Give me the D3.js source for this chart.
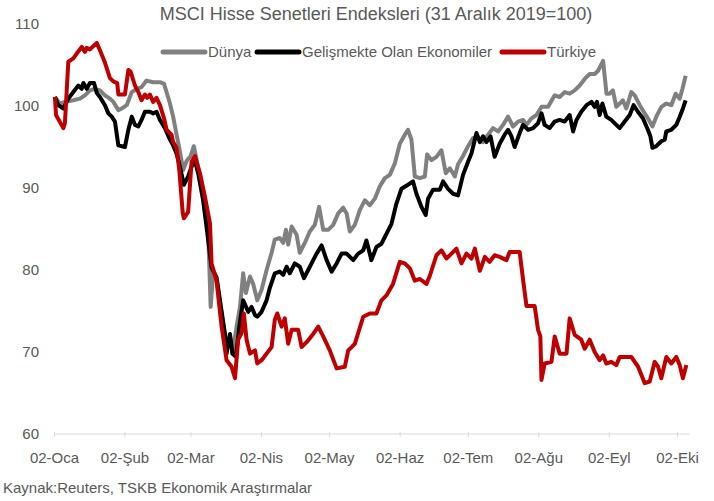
<!DOCTYPE html>
<html>
<head>
<meta charset="utf-8">
<script src="https://cdn.jsdelivr.net/npm/d3@7/dist/d3.min.js"></script>
<style>
  body { margin: 0; background: #fff; }
  text { font-family: "Liberation Sans Narrow", "Arial Narrow", "Liberation Sans", sans-serif; fill: #595959; }
</style>
</head>
<body>
<script>
// day offsets from 02 Jan 2020, index value (31 Dec 2019 = 100)
var dunya = [
  [0.4,101.1],[2.6,100.3],[4.8,100.5],[8.5,100.7],[11.4,100.9],[13.6,101.3],[15.8,101.9],[18.0,102.1],
  [20.2,101.9],[22.4,101.3],[24.6,100.9],[26.1,100.5],[28.3,99.5],[29.8,99.7],[32.0,100.1],[34.2,101.7],
  [36.4,102.1],[38.5,102.3],[40.7,103.1],[43.6,102.9],[46.6,102.9],[48.4,102.7],[49.5,101.7],[51.0,100.3],
  [52.4,98.7],[53.9,96.5],[55.1,94.9],[56.8,92.2],[58.3,93.3],[60.1,93.9],[61.5,95.1],[62.7,93.5],
  [64.9,90.2],[66.4,87.0],[67.8,84.9],[68.9,75.5],[70.0,79.6],[71.5,78.7],[73.7,74.7],[75.9,70.6],
  [77.4,71.9],[78.5,69.8],[80.3,73.1],[81.8,75.5],[83.2,79.6],[84.4,77.2],[86.2,79.2],[87.6,78.3],
  [89.4,76.3],[91.3,77.6],[93.5,80.0],[95.7,82.1],[97.1,83.7],[99.3,83.9],[100.8,83.3],[102.0,84.9],
  [103.0,83.1],[104.5,85.3],[106.7,84.3],[108.1,82.1],[110.3,83.3],[112.5,84.7],[114.7,85.5],[116.6,87.7],
  [118.4,84.9],[120.6,84.9],[122.8,85.5],[125.0,86.9],[127.2,87.6],[128.7,86.9],[130.1,84.7],[132.3,85.5],
  [134.5,87.3],[136.7,88.5],[138.9,87.9],[141.1,88.7],[143.3,90.2],[145.5,91.2],[147.7,91.6],[149.9,93.0],
  [152.1,95.4],[154.3,96.5],[155.7,97.1],[157.2,95.9],[158.7,91.4],[160.9,91.2],[163.1,91.4],[164.1,94.1],
  [166.0,93.4],[168.2,93.8],[170.4,94.6],[172.3,91.8],[174.1,92.4],[176.3,91.4],[177.7,92.9],[179.9,93.9],
  [182.1,95.1],[184.3,96.1],[186.5,96.1],[188.7,95.6],[190.9,96.5],[193.1,97.3],[195.3,96.9],[197.5,97.7],
  [199.7,98.7],[201.9,97.5],[204.1,98.1],[206.3,98.3],[207.8,97.7],[210.0,98.5],[212.2,98.9],[214.4,99.9],
  [217.3,99.9],[220.2,101.3],[222.4,101.1],[224.6,101.7],[226.8,101.5],[229.0,101.9],[231.2,102.5],[233.4,103.3],
  [235.6,103.9],[237.8,103.9],[239.3,104.3],[241.5,105.5],[243.0,101.5],[244.4,101.5],[245.8,101.9],[247.3,99.9],
  [248.8,100.3],[250.2,100.7],[251.7,99.7],[253.9,101.7],[255.4,101.3],[257.6,100.1],[259.8,99.1],[261.2,98.5],
  [263.2,97.5],[264.9,98.7],[267.1,99.9],[269.3,100.3],[271.5,100.1],[273.4,101.5],[275.2,100.9],[276.4,102.1],
  [277.8,103.7]
];

var gelismekte = [
  [0.4,101.1],[1.9,100.1],[4.1,99.7],[6.3,100.9],[8.5,101.7],[10.7,102.5],[12.2,102.1],[12.9,102.8],
  [14.4,102.1],[15.8,102.8],[17.6,102.8],[18.8,101.6],[20.2,101.1],[22.4,100.1],[23.9,99.1],[25.4,98.7],
  [26.8,98.1],[28.3,95.2],[31.2,95.0],[32.7,97.1],[34.2,98.7],[35.6,97.7],[37.1,97.5],[38.5,98.3],
  [40.0,99.3],[42.2,99.3],[43.6,99.1],[45.1,99.3],[46.6,98.3],[48.8,97.3],[51.0,95.9],[52.4,95.2],
  [53.9,94.2],[55.4,92.6],[57.1,90.4],[59.0,91.4],[60.5,92.6],[62.0,93.3],[63.4,91.8],[65.6,88.5],
  [67.1,85.2],[69.3,80.3],[71.5,79.1],[73.7,75.0],[75.2,72.2],[75.9,69.8],[77.4,72.2],[78.5,69.8],
  [80.0,69.4],[81.5,73.1],[83.2,76.3],[85.4,74.9],[86.9,75.5],[88.4,74.5],[89.4,74.3],[91.3,74.9],
  [93.5,76.3],[94.9,77.8],[97.1,79.6],[99.3,79.8],[100.8,79.4],[102.3,80.4],[103.7,79.6],[105.9,80.8],
  [108.1,80.4],[109.9,79.0],[111.8,80.0],[114.0,81.2],[115.5,82.0],[117.7,83.0],[119.9,81.2],[122.1,79.8],
  [124.3,80.8],[126.5,82.0],[128.7,82.0],[131.6,81.2],[133.8,82.0],[136.0,82.4],[137.4,83.6],[139.6,81.2],
  [141.8,82.8],[144.0,83.2],[146.2,84.4],[148.4,85.6],[150.6,88.1],[152.8,89.9],[155.7,90.4],[157.9,90.8],
  [159.4,89.3],[161.6,87.7],[163.5,86.7],[164.5,88.7],[166.7,89.8],[169.7,89.8],[171.1,90.8],[173.3,89.9],
  [175.5,89.3],[177.7,89.1],[179.9,91.6],[182.1,93.2],[183.6,94.2],[185.8,96.7],[187.3,95.6],[188.7,96.3],
  [190.2,95.6],[192.0,96.3],[193.8,93.8],[196.0,95.4],[198.2,96.5],[199.7,97.1],[201.2,96.3],[202.6,95.0],
  [204.8,96.7],[206.3,97.7],[208.5,97.1],[210.7,97.3],[212.9,97.9],[214.4,99.1],[215.8,97.7],[218.0,97.3],
  [220.2,98.1],[222.4,98.3],[224.6,98.1],[226.8,98.9],[228.3,96.9],[229.8,98.3],[231.9,99.3],[234.2,100.1],
  [236.4,100.5],[237.8,99.9],[238.8,100.5],[240.0,98.9],[241.2,100.3],[242.9,98.7],[245.1,98.3],[247.3,97.7],
  [248.8,97.3],[251.0,98.1],[253.2,98.9],[254.9,100.1],[256.8,99.3],[259.0,98.5],[261.2,97.1],[262.3,96.3],
  [263.2,94.9],[264.9,95.1],[267.1,95.7],[268.6,95.9],[269.3,96.9],[271.5,97.1],[273.7,97.7],[275.2,98.7],
  [276.6,99.7],[277.8,100.7]
];

var turkiye = [
  [0.4,101.1],[0.9,98.9],[4.1,97.3],[4.8,97.9],[6.3,105.4],[8.5,105.8],[10.0,106.4],[12.2,107.2],
  [13.6,106.6],[14.4,107.1],[15.8,106.9],[17.3,107.3],[18.8,107.7],[20.2,106.8],[22.4,105.3],[24.6,103.4],
  [26.1,103.0],[27.8,102.8],[28.3,101.4],[31.2,101.4],[32.7,104.4],[33.7,104.2],[35.6,102.5],[37.1,101.7],
  [38.5,100.7],[40.0,101.4],[41.0,101.0],[42.2,101.4],[43.6,100.5],[45.1,101.0],[46.6,100.1],[48.4,98.5],
  [49.5,97.1],[51.7,96.5],[52.4,95.6],[53.9,94.9],[55.1,92.2],[56.6,87.0],[57.1,86.3],[59.0,87.1],
  [60.5,93.2],[62.0,93.9],[64.2,91.8],[66.4,88.9],[68.6,85.7],[69.3,80.8],[71.5,78.7],[73.7,73.1],
  [75.9,69.0],[78.1,68.2],[79.6,66.8],[81.0,71.5],[82.5,72.3],[83.5,74.7],[84.7,71.5],[86.2,69.8],
  [88.4,70.2],[89.4,68.6],[91.3,69.0],[93.5,69.8],[95.7,70.6],[97.1,73.9],[98.2,74.7],[100.1,73.1],
  [101.5,74.1],[103.0,71.0],[104.5,72.7],[107.4,72.7],[108.9,70.6],[111.1,71.2],[114.0,72.2],[116.2,73.1],
  [118.4,71.9],[121.3,70.2],[124.3,68.0],[127.9,68.2],[129.4,70.2],[130.9,70.6],[132.3,71.0],[136.0,74.3],
  [138.9,74.7],[141.8,74.7],[144.0,76.3],[146.2,76.9],[149.1,78.3],[152.1,81.0],[154.3,80.8],[156.5,80.2],
  [158.7,78.7],[160.9,78.9],[163.8,78.3],[165.3,79.3],[168.2,81.8],[170.4,82.4],[172.6,81.4],[174.8,82.0],
  [177.0,82.6],[179.2,80.8],[181.4,82.0],[183.6,81.4],[185.1,82.6],[187.3,79.9],[189.5,81.6],[191.6,81.0],
  [193.8,81.8],[196.0,81.6],[199.0,81.2],[200.4,82.2],[203.4,82.2],[204.8,82.2],[206.3,78.8],[207.8,75.6],
  [211.4,75.6],[212.9,72.7],[213.9,71.9],[214.4,66.6],[215.8,68.6],[218.8,68.8],[220.2,71.9],[222.4,69.8],
  [225.4,69.8],[226.8,74.1],[229.0,72.1],[231.9,71.5],[233.4,70.4],[235.6,71.5],[237.8,70.0],[240.0,69.0],
  [241.5,69.6],[242.9,68.6],[245.1,68.8],[247.3,68.4],[248.8,69.4],[253.9,69.4],[256.9,68.2],[259.8,66.2],
  [262.0,66.4],[264.2,68.8],[265.7,68.2],[267.1,66.8],[269.3,69.4],[271.5,68.6],[273.7,69.4],[275.2,68.4],
  [276.6,66.8],[278.1,68.4]
];

var monthLabels = ["02-Oca", "02-Şub", "02-Mar", "02-Nis", "02-May", "02-Haz", "02-Tem", "02-Ağu", "02-Eyl", "02-Eki"];
var yTicks = [60, 70, 80, 90, 100, 110];
var seriesNames = ["Dünya", "Gelişmekte Olan Ekonomiler", "Türkiye"];
var seriesColors = ["#808080", "#000000", "#c00000"];

var width = 714, height = 501;
var start = new Date(2020, 0, 2);
function toDate(d) { return new Date(start.getTime() + d * 864e5); }

var svg = d3.select("body").append("svg")
    .attr("width", width)
    .attr("height", height);

var x = d3.scaleTime()
    .domain([start, new Date(2020, 9, 2)])
    .range([54, 677]);

var y = d3.scaleLinear()
    .domain([60, 110])
    .range([434, 24]);

// title
svg.append("text")
    .attr("x", 376)
    .attr("y", 20)
    .attr("text-anchor", "middle")
    .attr("font-size", "18px")
    .text("MSCI Hisse Senetleri Endeksleri (31 Aralık 2019=100)");

// y labels (no axis line)
svg.append("g").selectAll("text")
    .data(yTicks)
    .enter().append("text")
    .attr("x", 39)
    .attr("y", function(d) { return y(d) + 5; })
    .attr("text-anchor", "end")
    .attr("font-size", "15px")
    .text(function(d) { return d; });

// x axis
var monthTicks = monthLabels.map(function(l, i) { return new Date(2020, i, 2); });
var xAxis = d3.axisBottom(x)
    .tickValues(monthTicks)
    .tickSize(5)
    .tickFormat(function(d, i) { return monthLabels[i]; });

var gx = svg.append("g")
    .attr("transform", "translate(0," + y(60) + ")")
    .call(xAxis);
gx.select(".domain").attr("d", "M54,0H690").attr("stroke", "#d9d9d9");
gx.selectAll(".tick line").attr("stroke", "#d9d9d9").attr("y1", -2).attr("y2", 3);
gx.selectAll(".tick text")
    .attr("y", 18)
    .attr("font-size", "15px")
    .attr("font-family", null)
    .attr("fill", "#595959");

// lines
var line = d3.line()
    .x(function(d) { return x(toDate(d[0])); })
    .y(function(d) { return y(d[1]); });

var allSeries = [dunya, gelismekte, turkiye];
svg.append("g").selectAll("path")
    .data(allSeries)
    .enter().append("path")
    .attr("d", line)
    .attr("fill", "none")
    .attr("stroke", function(d, i) { return seriesColors[i]; })
    .attr("stroke-width", 4)
    .attr("stroke-linejoin", "round");

// legend
var legendX = [163, 257, 502];
var lg = svg.append("g").selectAll("g")
    .data(seriesNames)
    .enter().append("g")
    .attr("transform", function(d, i) { return "translate(" + legendX[i] + ",52)"; });
lg.append("line")
    .attr("x1", 0).attr("x2", 42)
    .attr("stroke", function(d, i) { return seriesColors[i]; })
    .attr("stroke-width", 5)
    .attr("stroke-linecap", "round");
lg.append("text")
    .attr("x", 45)
    .attr("y", 5)
    .attr("font-size", "15px")
    .text(function(d) { return d; });

// source
svg.append("text")
    .attr("x", 3)
    .attr("y", 493)
    .attr("font-size", "15px")
    .text("Kaynak:Reuters, TSKB Ekonomik Araştırmalar");
</script>
</body>
</html>
